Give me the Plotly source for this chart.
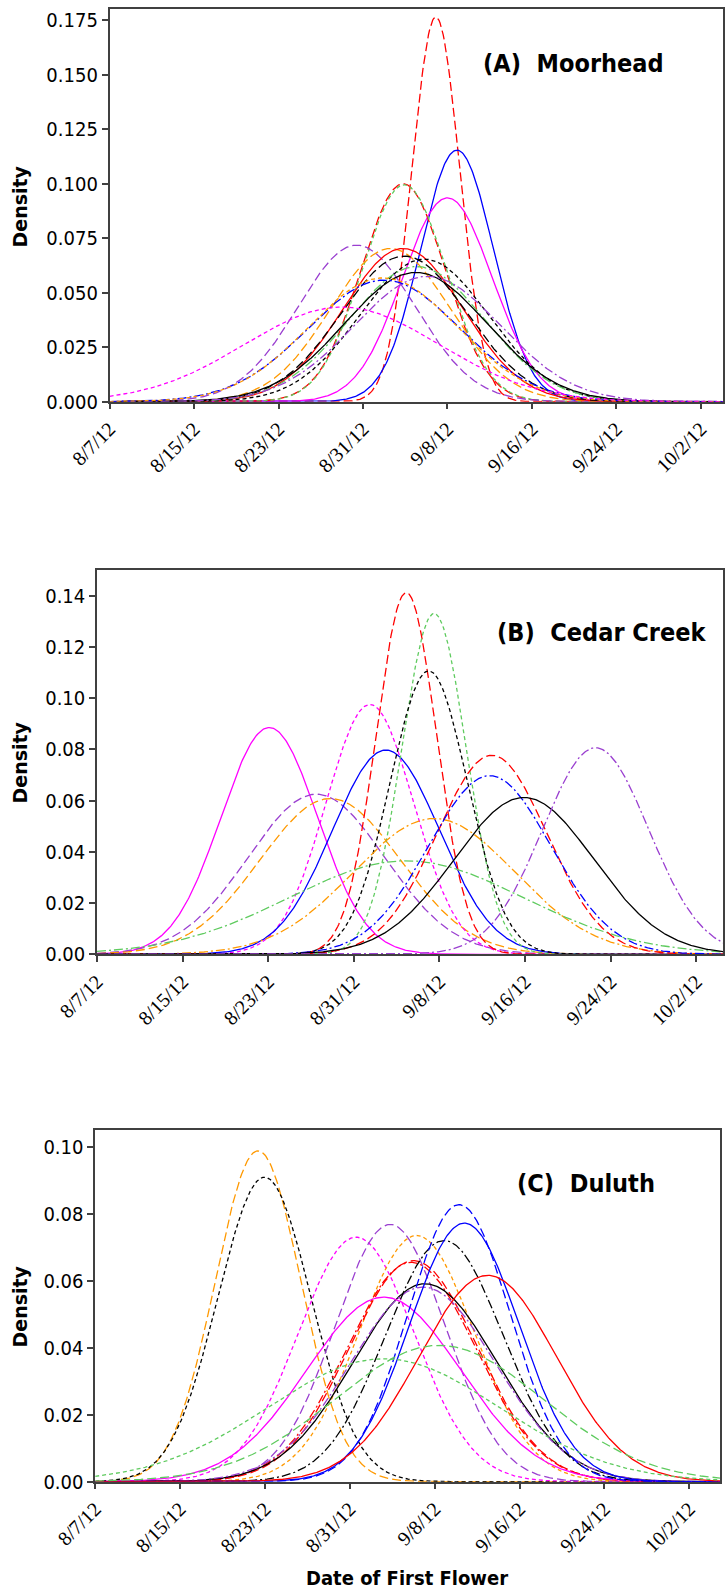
import numpy as np
import plotly.graph_objects as go

W, H = 725, 1589

# ---------------- data (days after 8/7/12) ----------------
tick_days = [0, 8, 16, 24, 32, 40, 48, 56]
tick_labels = ["8/7/12", "8/15/12", "8/23/12", "8/31/12", "9/8/12", "9/16/12", "9/24/12", "10/2/12"]

# Moorhead: mean day and peak density of each fitted normal curve
moorhead_mean = [30.9, 32.9, 32.0, 27.8, 27.9, 23.4, 26.6, 27.8, 27.9, 29.8, 29.1, 29.0, 30.1, 26.0, 25.9, 22.0]
moorhead_peak = [0.1765, 0.1154, 0.0935, 0.1000, 0.0995, 0.0718, 0.0703, 0.0703, 0.0668, 0.0654, 0.0620, 0.0593, 0.0575, 0.0558, 0.0568, 0.0434]

cedar_mean = [16.1, 20.5, 21.8, 25.5, 27.0, 28.9, 31.5, 31.0, 31.5, 28.9, 36.9, 36.7, 39.9, 46.6]
cedar_peak = [0.0885, 0.0625, 0.0608, 0.0975, 0.0797, 0.1412, 0.1330, 0.1106, 0.0530, 0.0365, 0.0777, 0.0697, 0.0612, 0.0806]

duluth_mean = [15.35, 15.96, 24.6, 27.8, 30.3, 30.0, 29.8, 31.1, 30.9, 27.2, 32.9, 34.3, 34.8, 37.0, 32.4, 27.2]
duluth_peak = [0.0988, 0.0909, 0.0730, 0.0768, 0.0735, 0.0660, 0.0655, 0.0591, 0.0581, 0.0551, 0.0720, 0.0827, 0.0772, 0.0616, 0.0407, 0.0367]

# ---------------- styles ----------------
RED, BLUE, BLACK, MAG, PUR, ORA, GRN = "#FF0000", "#0000FF", "#000000", "#FF00FF", "#9A3FD0", "#FF9900", "#5FCB5F"
LD = "9px,4px"          # long dash
SD = "4px,3px"          # short dash
DD = "9px,3px,2px,3px"  # dash-dot
SO = "solid"

moorhead_style = [(RED, LD), (BLUE, SO), (MAG, SO), (RED, LD), (GRN, SD), (PUR, LD), (ORA, LD), (RED, SO),
                  (BLACK, LD), (BLACK, SD), (GRN, DD), (BLACK, SO), (PUR, DD), (BLUE, DD), (ORA, SD), (MAG, SD)]
cedar_style = [(MAG, SO), (PUR, LD), (ORA, LD), (MAG, SD), (BLUE, SO), (RED, LD), (GRN, SD), (BLACK, SD),
               (ORA, DD), (GRN, DD), (RED, LD), (BLUE, DD), (BLACK, SO), (PUR, DD)]
duluth_style = [(ORA, LD), (BLACK, SD), (MAG, SD), (PUR, LD), (ORA, SD), (RED, LD), (RED, DD), (BLACK, SO),
                (PUR, DD), (MAG, SO), (BLACK, DD), (BLUE, LD), (BLUE, SO), (RED, SO), (GRN, LD), (GRN, SD)]

# ---------------- layout geometry (pixels) ----------------
panels = [
    dict(name="(A)\u00a0 Moorhead", mean=moorhead_mean, peak=moorhead_peak, style=moorhead_style,
         left=109.6, right=723, top=9.3, bottom=401.7, xmax=58.1, ymax=0.18, dtick=0.025, fmt=".3f",
         lab=(573, 64), dens_y=207),
    dict(name="(B)\u00a0 Cedar Creek", mean=cedar_mean, peak=cedar_peak, style=cedar_style,
         left=97, right=723, top=570, bottom=954.3, xmax=58.5, ymax=0.15, dtick=0.02, fmt=".2f",
         lab=(601, 632), dens_y=763),
    dict(name="(C)\u00a0 Duluth", mean=duluth_mean, peak=duluth_peak, style=duluth_style,
         left=95.2, right=720, top=1130, bottom=1481.7, xmax=58.9, ymax=0.105, dtick=0.02, fmt=".2f",
         lab=(586, 1183), dens_y=1307),
]

fig = go.Figure()
xs = np.arange(0, 60.01, 0.1)
SQ = np.sqrt(2 * np.pi)

TICKFONT_Y = dict(family="DejaVu Sans Condensed, Liberation Sans Narrow, DejaVu Sans", size=20, color="#000")
TICKFONT_X = dict(family="Liberation Serif, DejaVu Serif, serif", size=20, color="#000")
AXC = "#404040"

annotations = []
for i, p in enumerate(panels):
    sfx = "" if i == 0 else str(i + 1)
    for m, pk, (col, dash) in zip(p["mean"], p["peak"], p["style"]):
        sd = 1.0 / (pk * SQ)
        ys = pk * np.exp(-0.5 * ((xs - m) / sd) ** 2)
        fig.add_trace(go.Scatter(x=xs, y=ys, mode="lines", xaxis="x" + sfx, yaxis="y" + sfx,
                                 line=dict(color=col, dash=dash, width=1.3), showlegend=False,
                                 hoverinfo="skip"))
    xd = [p["left"] / W, p["right"] / W]
    yd = [1 - p["bottom"] / H, 1 - p["top"] / H]
    fig.layout["xaxis" + sfx] = dict(
        domain=xd, range=[0, p["xmax"]], anchor="y" + sfx, tickmode="array", automargin=False,
        tickvals=tick_days, ticktext=tick_labels, tickangle=-45, ticks="outside", ticklen=6,
        tickcolor=AXC, tickwidth=1.5, showline=True, linecolor=AXC, linewidth=1.5, mirror=True,
        showgrid=False, zeroline=False, tickfont=TICKFONT_X)
    fig.layout["yaxis" + sfx] = dict(
        domain=yd, range=[0, p["ymax"]], anchor="x" + sfx, tick0=0, dtick=p["dtick"], automargin=False,
        tickformat=p["fmt"], ticks="outside", ticklen=6, tickcolor=AXC, tickwidth=1.5,
        showline=True, linecolor=AXC, linewidth=1.5, mirror=True, showgrid=False,
        zeroline=False, tickfont=TICKFONT_Y)
    annotations.append(dict(text="<b>" + p["name"] + "</b>", x=p["lab"][0] / W, y=1 - p["lab"][1] / H,
                            xref="paper", yref="paper", showarrow=False, xanchor="center", yanchor="middle",
                            font=dict(family="Liberation Sans Narrow, DejaVu Sans Condensed, sans-serif",
                                      size=25, color="#000")))
    annotations.append(dict(text="<b>Density</b>", x=19.5 / W, y=1 - p["dens_y"] / H, textangle=-90,
                            xref="paper", yref="paper", showarrow=False, xanchor="center", yanchor="middle",
                            font=dict(family="DejaVu Sans, Verdana, sans-serif", size=19, color="#000")))

annotations.append(dict(text="<b>Date of First Flower</b>", x=407 / W, y=1 - 1578 / H, xref="paper",
                        yref="paper", showarrow=False, xanchor="center", yanchor="middle",
                        font=dict(family="DejaVu Sans Condensed, Liberation Sans Narrow, sans-serif",
                                  size=20, color="#000")))

fig.update_layout(width=W, height=H, margin=dict(l=0, r=0, t=0, b=0, autoexpand=False),
                  paper_bgcolor="white", plot_bgcolor="white", annotations=annotations, showlegend=False)

fig.write_html("out.html")
